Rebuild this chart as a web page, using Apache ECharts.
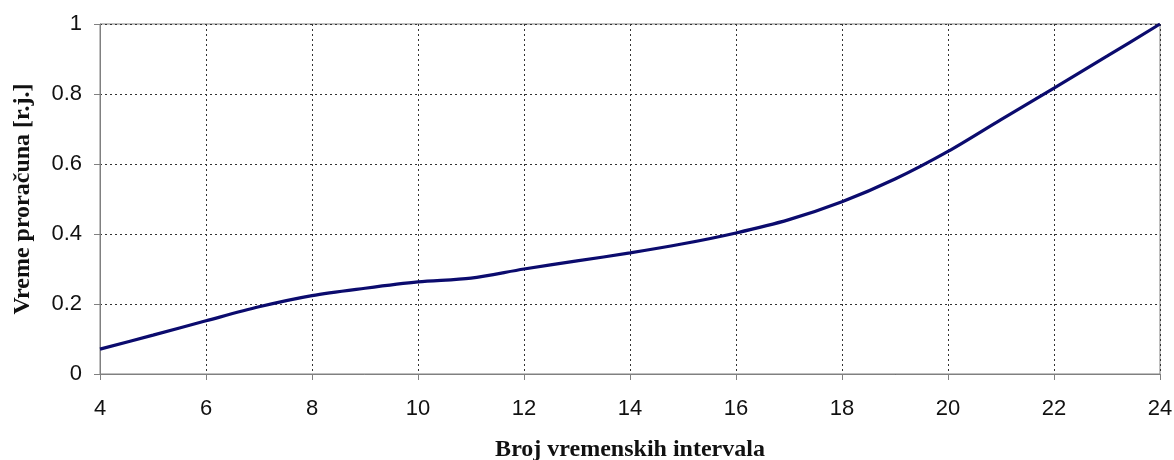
<!DOCTYPE html>
<html><head><meta charset="utf-8">
<script src="https://cdn.jsdelivr.net/npm/echarts@6/dist/echarts.min.js"></script>
<style>html,body{margin:0;padding:0;background:#fff}#c{width:1174px;height:460px}</style>
</head><body><div id="c"></div>
<script>
const xValues = [4,5,6,7,8,9,10,11,12,13,14,15,16,17,18,19,20,21,22,23,24];
const yValues = [0.071,0.111,0.152,0.192,0.224,0.245,0.263,0.274,0.300,0.323,0.346,0.372,0.403,0.441,0.492,0.557,0.636,0.727,0.817,0.908,1.0];
const xTitle = 'Broj vremenskih intervala';
const yTitle = 'Vreme proračuna [r.j.]';

const chart = echarts.init(document.getElementById('c'), null, {renderer:'canvas'});
chart.setOption({
  animation:false,
  backgroundColor:'#fff',
  grid:{left:100,right:14,top:24,bottom:86,show:true,borderColor:'#808080',borderWidth:1,containLabel:false,outerBoundsMode:'none'},
  xAxis:{
    type:'value',min:4,max:24,interval:2,
    name:xTitle,nameLocation:'middle',nameGap:64,
    nameTextStyle:{fontFamily:'Liberation Serif',fontWeight:'bold',fontSize:24,color:'#111'},
    axisLine:{show:true,lineStyle:{color:'#808080',width:1}},
    axisTick:{show:true,inside:false,length:6,lineStyle:{color:'#808080'}},
    axisLabel:{fontFamily:'Liberation Sans',fontSize:22,color:'#111',margin:24},
    splitLine:{show:true,lineStyle:{color:'#333',type:[2,3],width:1}}
  },
  yAxis:{
    type:'value',min:0,max:1,interval:0.2,
    name:yTitle,nameLocation:'middle',nameGap:65,nameRotate:90,
    nameTextStyle:{fontFamily:'Liberation Serif',fontWeight:'bold',fontSize:24,color:'#111'},
    axisLine:{show:true,lineStyle:{color:'#808080',width:1}},
    axisTick:{show:true,inside:false,length:6,lineStyle:{color:'#808080'}},
    axisLabel:{fontFamily:'Liberation Sans',fontSize:22,color:'#111',margin:18,formatter:v=>String(+v.toFixed(1))},
    splitLine:{show:true,lineStyle:{color:'#333',type:[2,3],width:1}}
  },
  series:[{
    type:'line',
    data:xValues.map((x,i)=>[x,yValues[i]]),
    smooth:0.3,
    showSymbol:false,
    lineStyle:{color:'#0b0b6e',width:3.2},
    clip:false
  }]
});
</script></body></html>
